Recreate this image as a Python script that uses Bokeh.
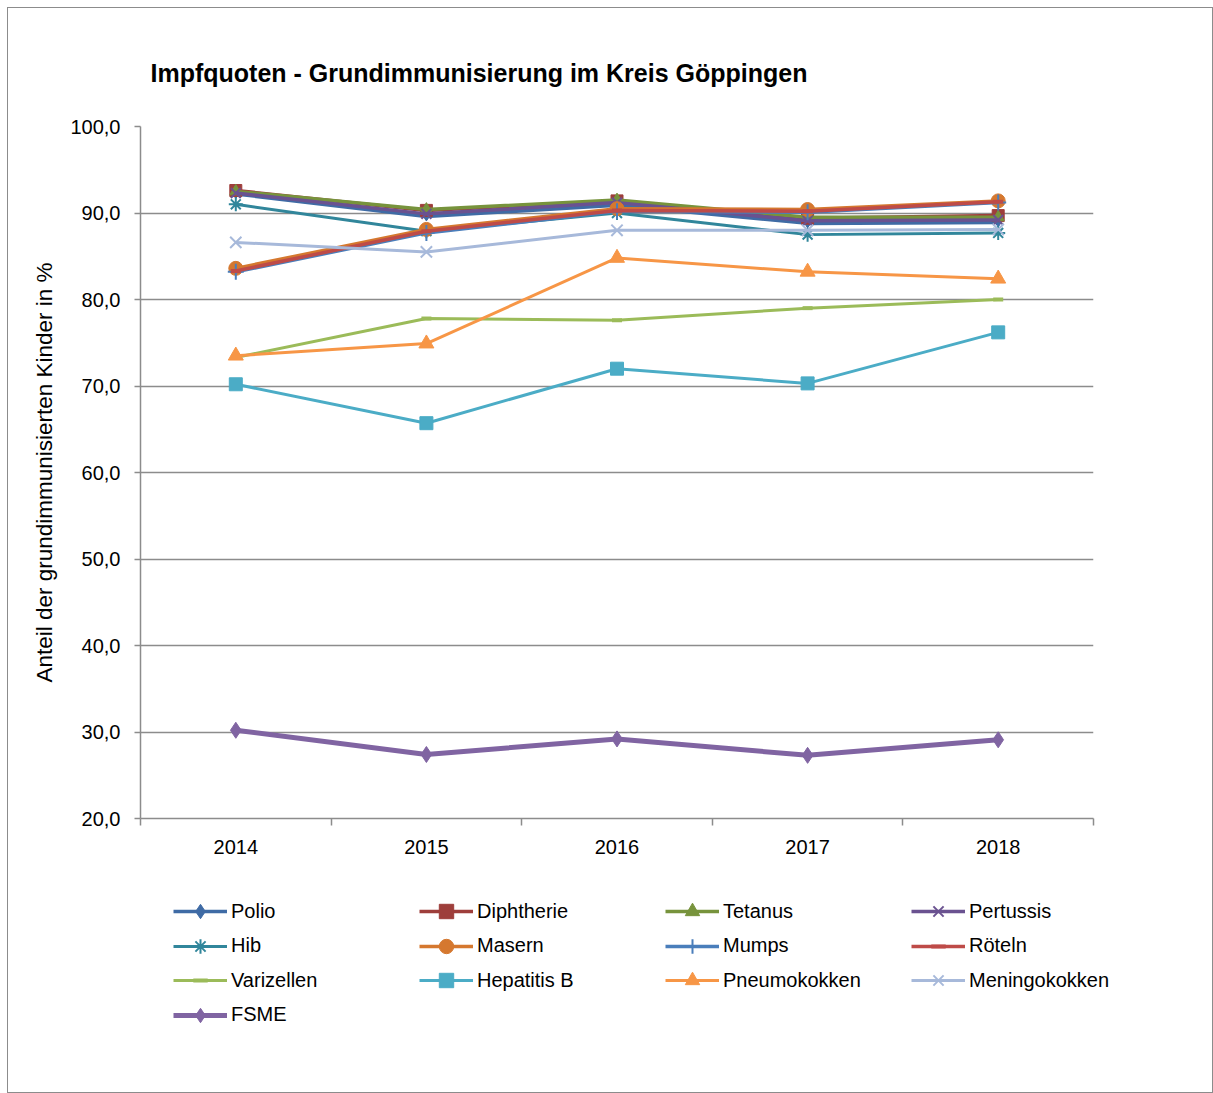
from bokeh.plotting import figure
from bokeh.layouts import column
from bokeh.models import (Range1d, FixedTicker, CustomJSTickFormatter, Legend, LegendItem, Title)
from bokeh.embed import file_html
from bokeh.resources import INLINE

# ---------------- data ----------------
years = ["2014", "2015", "2016", "2017", "2018"]

names = ["Polio", "Diphtherie", "Tetanus", "Pertussis",
         "Hib", "Masern", "Mumps", "Röteln",
         "Varizellen", "Hepatitis B", "Pneumokokken", "Meningokokken",
         "FSME"]

polio = [92.2, 89.6, 90.9, 88.8, 88.9]
diphtherie = [92.6, 90.3, 91.4, 89.4, 89.7]
tetanus = [92.5, 90.4, 91.5, 89.5, 89.5]
pertussis = [92.3, 89.9, 91.2, 89.1, 89.2]
hib = [91.0, 87.9, 90.0, 87.5, 87.7]
masern = [83.6, 88.1, 90.5, 90.4, 91.4]
mumps = [83.2, 87.7, 90.2, 90.1, 91.2]
roeteln = [83.3, 87.9, 90.3, 90.2, 91.3]
varizellen = [73.3, 77.8, 77.6, 79.0, 80.0]
hepatitis_b = [70.2, 65.7, 72.0, 70.3, 76.2]
pneumokokken = [73.5, 74.9, 84.8, 83.2, 82.4]
meningokokken = [86.6, 85.5, 88.0, 88.0, 88.1]
fsme = [30.2, 27.4, 29.2, 27.3, 29.1]

y_ticks = [20, 30, 40, 50, 60, 70, 80, 90, 100]

series_values = [polio, diphtherie, tetanus, pertussis, hib, masern, mumps,
                 roeteln, varizellen, hepatitis_b, pneumokokken, meningokokken, fsme]

# ---------------- styles ----------------
colors = ["#3F6BA5", "#9E3E3B", "#77933C", "#6A5290",
          "#31869B", "#D5782F", "#4A7EBB", "#BE4B48",
          "#9BBB59", "#4BACC6", "#F79646", "#A7B9DA",
          "#8064A2"]
markers = ["diamond", "square", "triangle", "x",
           "asterisk", "circle", "cross", "dash",
           "dash", "square", "triangle", "x",
           "diamond"]
msizes = [9, 12, 12, 14, 14, 14, 16, 10, 10, 13, 15, 16, 16]
lwidths = [3.5, 3.5, 3.5, 3.5, 3, 3.5, 3.5, 3.5, 3, 3, 3, 3, 5]

FONT = "Liberation Sans"
GRID = "#8c8c8c"

xs = [i + 1 for i in range(len(years))]

H1 = 862
H2 = 222

p = figure(width=1204, height=H1, output_backend="svg", toolbar_location=None,
           x_range=Range1d(0.5, len(years) + 0.5), y_range=Range1d(20, 100),
           min_border_left=132, min_border_right=119, min_border_top=118,
           min_border_bottom=52)
p.frame_align = False
p.outline_line_color = None
p.background_fill_color = "white"

p.title = Title(text="Impfquoten - Grundimmunisierung im Kreis Göppingen",
                align="left", offset=10, standoff=80,
                text_font=FONT, text_font_size="25px", text_font_style="bold",
                text_color="black")

p.xgrid.visible = False
p.ygrid.grid_line_color = GRID
p.ygrid.grid_line_width = 1.5
p.ygrid.ticker = FixedTicker(ticks=y_ticks)

# y axis
p.yaxis.ticker = FixedTicker(ticks=y_ticks)
p.yaxis.formatter = CustomJSTickFormatter(code="return tick.toFixed(1).replace('.', ',')")
p.yaxis.axis_line_color = GRID
p.yaxis.axis_line_width = 1.5
p.yaxis.major_tick_line_color = GRID
p.yaxis.major_tick_line_width = 1.5
p.yaxis.major_tick_out = 6
p.yaxis.major_tick_in = 0
p.yaxis.minor_tick_line_color = None
p.yaxis.major_label_standoff = 14
p.yaxis.major_label_text_font = FONT
p.yaxis.major_label_text_font_size = "20px"
p.yaxis.major_label_text_color = "black"
p.yaxis.axis_label = "Anteil der grundimmunisierten Kinder in %"
p.yaxis.axis_label_text_font = FONT
p.yaxis.axis_label_text_font_size = "22.5px"
p.yaxis.axis_label_text_font_style = "normal"
p.yaxis.axis_label_text_color = "black"
p.yaxis.axis_label_standoff = 10

# x axis
p.xaxis.ticker = FixedTicker(ticks=xs, minor_ticks=[x - 0.5 for x in xs] + [xs[-1] + 0.5])
p.xaxis.formatter = CustomJSTickFormatter(args=dict(labels=years),
                                          code="return labels[Math.round(tick) - 1]")
p.xaxis.axis_line_color = GRID
p.xaxis.axis_line_width = 1.5
p.xaxis.major_tick_line_color = None
p.xaxis.major_tick_out = 0
p.xaxis.major_tick_in = 0
p.xaxis.minor_tick_line_color = GRID
p.xaxis.minor_tick_line_width = 1.5
p.xaxis.minor_tick_out = 7
p.xaxis.minor_tick_in = 0
p.xaxis.major_label_standoff = 14
p.xaxis.major_label_text_font = FONT
p.xaxis.major_label_text_font_size = "20px"
p.xaxis.major_label_text_color = "black"

# legend figure: proxies use the same data, kept outside its visible ranges
q = figure(width=1204, height=H2, output_backend="svg", toolbar_location=None,
           x_axis_location=None, y_axis_location=None,
           x_range=Range1d(100, 101), y_range=Range1d(100, 101),
           min_border=0)
q.frame_align = False
q.outline_line_color = None
q.grid.visible = False

items = []
for name, vals, c, m, ms, lw in zip(names, series_values, colors, markers, msizes, lwidths):
    mlw = 2 if m in ("x", "cross", "asterisk") else 1
    if m == "dash":
        mlw = 4
    p.line(xs, vals, line_color=c, line_width=lw, line_join="round")
    p.scatter(xs, vals, marker=m, size=ms, fill_color=c, line_color=c, line_width=mlw)
    lr = q.line(xs, vals, line_color=c, line_width=lw)
    sr = q.scatter(xs, vals, marker=m, size=ms, fill_color=c, line_color=c, line_width=mlw)
    items.append(LegendItem(label=name, renderers=[lr, sr]))

GH = 36
for r in range(4):
    row_items = items[r * 4:(r + 1) * 4]
    leg = Legend(items=row_items, orientation="horizontal",
                 location=(165, H2 - (41 - GH / 2) - GH - r * 34.5),
                 glyph_width=54, glyph_height=GH, label_height=24,
                 label_standoff=4, label_width=188, spacing=0,
                 padding=0, margin=0,
                 border_line_color=None, background_fill_alpha=0,
                 label_text_font=FONT, label_text_font_size="20px",
                 label_text_color="black")
    q.add_layout(leg, "center")

layout = column(p, q, spacing=0,
                styles={"border": "1px solid #8c8c8c", "margin": "7px 0px 0px 7px"})

open("out.html", "w").write(file_html(layout, INLINE))
